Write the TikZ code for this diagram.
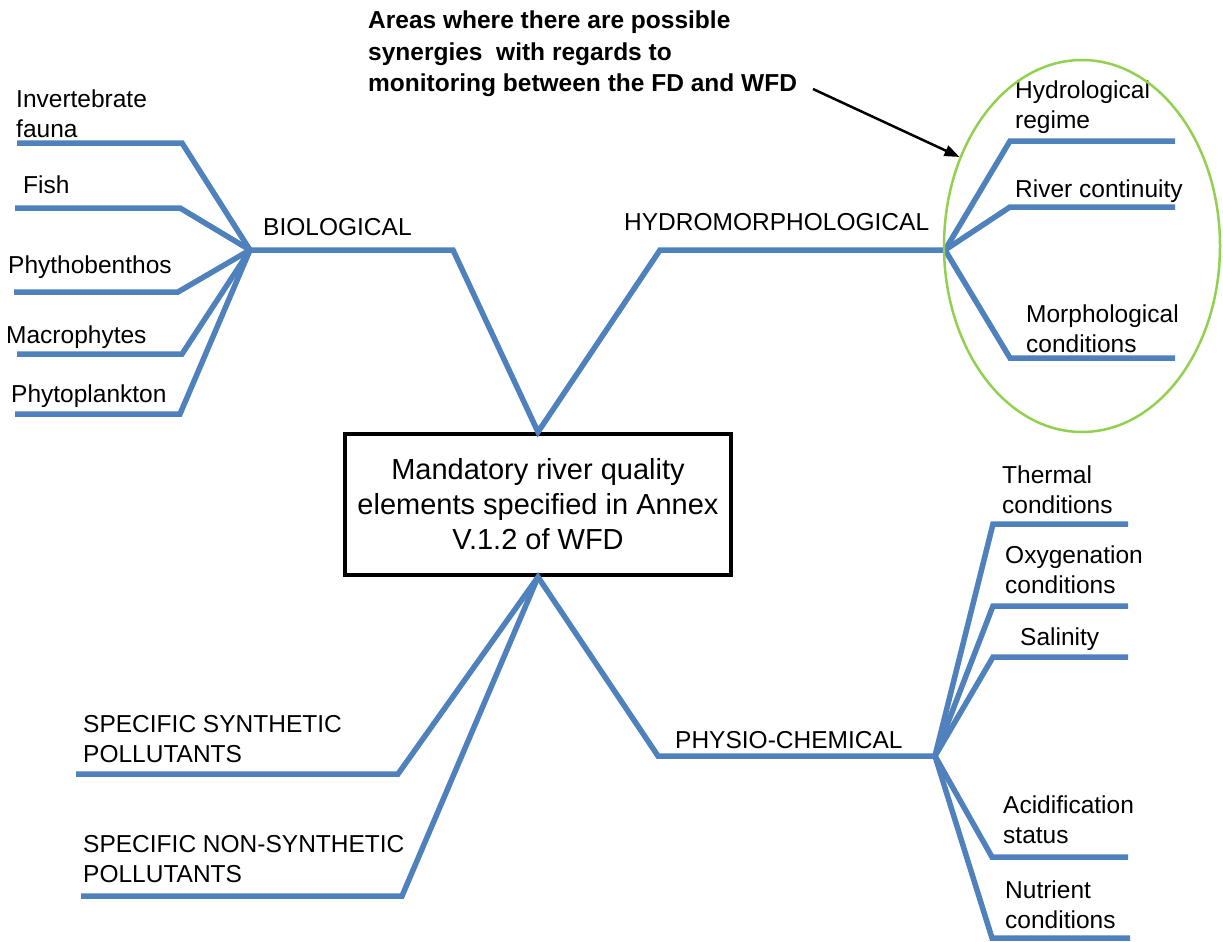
\documentclass[tikz,border=0pt]{standalone}
\usepackage{fontspec}
\setmainfont{Liberation Sans}
\usetikzlibrary{positioning,shapes.geometric,arrows.meta}

\definecolor{branchblue}{RGB}{79,129,189}
\definecolor{ringgreen}{RGB}{146,208,80}

\begin{document}
\begin{tikzpicture}[x=1pt, y=-1pt,
    lbl/.style={anchor=base west, align=left, inner sep=0pt, font=\fontsize{24.5}{30}\selectfont},
    branch/.style={draw=branchblue, line width=5.5pt},
    pointer/.style={draw=black, line width=2.5pt, -{Triangle[length=15pt,width=11pt]}}]

    \useasboundingbox (0,0) rectangle (1223,942);
    \fill[white] (0,0) rectangle (1223,942);

    % centre box
    \node[draw, fill=white, line width=4pt, minimum width=386pt, minimum height=141pt, align=center,
          font=\fontsize{29}{35}\selectfont] (wfd) at (538,504.5)
          {Mandatory river quality\\elements specified in Annex\\V.1.2 of WFD};

    % main branches
    \coordinate (bio hub) at (250,250);
    \coordinate (bio bend) at (453,250);
    \coordinate (hyd bend) at (660,250);
    \coordinate (hyd hub) at (945,250);
    \coordinate (phy bend) at (658,756);
    \coordinate (phy hub) at (935,756);
    \coordinate (syn bend) at (398,774);
    \coordinate (syn end) at (76,774);
    \coordinate (nsy bend) at (402,896);
    \coordinate (nsy end) at (81,896);

    \draw[branch] (bio hub) -- (bio bend) -- (wfd.north) -- (hyd bend) -- (hyd hub);
    \draw[branch] (syn end) -- (syn bend) -- (wfd.south) -- (phy bend) -- (phy hub);
    \draw[branch] (nsy end) -- (nsy bend) -- (wfd.south);

    \node[lbl] (bio) at (263,235) {BIOLOGICAL};
    \node[lbl] (hyd) at (624,230) {HYDROMORPHOLOGICAL};
    \node[lbl] (phy) at (675,748) {PHYSIO-CHEMICAL};
    \node[lbl] (syn) at (83,762) {SPECIFIC SYNTHETIC\\POLLUTANTS};
    \node[lbl] (nsy) at (83,882) {SPECIFIC NON-SYNTHETIC\\POLLUTANTS};

    % biological elements
    \coordinate (inv bend) at (182,143); \coordinate (inv end) at (17,143);
    \coordinate (fish bend) at (180,208); \coordinate (fish end) at (15,208);
    \coordinate (phb bend) at (178,292); \coordinate (phb end) at (14,292);
    \coordinate (mac bend) at (182,354); \coordinate (mac end) at (17,354);
    \coordinate (plk bend) at (180,414); \coordinate (plk end) at (15,414);

    \draw[branch] (bio hub) -- (inv bend) -- (inv end);
    \draw[branch] (bio hub) -- (fish bend) -- (fish end);
    \draw[branch] (bio hub) -- (phb bend) -- (phb end);
    \draw[branch] (bio hub) -- (mac bend) -- (mac end);
    \draw[branch] (bio hub) -- (plk bend) -- (plk end);

    \node[lbl] (inv) at (16,137) {Invertebrate\\fauna};
    \node[lbl] (fish) at (23,193) {Fish};
    \node[lbl] (phb) at (8,273) {Phythobenthos};
    \node[lbl] (mac) at (6,343) {Macrophytes};
    \node[lbl] (plk) at (11,402) {Phytoplankton};

    % hydromorphological elements
    \coordinate (reg bend) at (1010,141); \coordinate (reg end) at (1175,141);
    \coordinate (riv bend) at (1010,207); \coordinate (riv end) at (1175,207);
    \coordinate (mor bend) at (1010,358); \coordinate (mor end) at (1175,358);

    \draw[branch] (hyd hub) -- (reg bend) -- (reg end);
    \draw[branch] (hyd hub) -- (riv bend) -- (riv end);
    \draw[branch] (hyd hub) -- (mor bend) -- (mor end);

    \node[lbl] (reg) at (1015,128) {Hydrological\\regime};
    \node[lbl] (riv) at (1015,197) {River continuity};
    \node[lbl] (mor) at (1026,352) {Morphological\\conditions};

    % physio-chemical elements
    \coordinate (thr bend) at (993,524); \coordinate (thr end) at (1128,524);
    \coordinate (oxy bend) at (993,606); \coordinate (oxy end) at (1128,606);
    \coordinate (sal bend) at (993,657); \coordinate (sal end) at (1128,657);
    \coordinate (aci bend) at (992,857); \coordinate (aci end) at (1128,857);
    \coordinate (nut bend) at (992,938); \coordinate (nut end) at (1130,938);

    \draw[branch] (phy hub) -- (thr bend) -- (thr end);
    \draw[branch] (phy hub) -- (oxy bend) -- (oxy end);
    \draw[branch] (phy hub) -- (sal bend) -- (sal end);
    \draw[branch] (phy hub) -- (aci bend) -- (aci end);
    \draw[branch] (phy hub) -- (nut bend) -- (nut end);

    \node[lbl] (thr) at (1002,513) {Thermal\\conditions};
    \node[lbl] (oxy) at (1005,593) {Oxygenation\\conditions};
    \node[lbl] (sal) at (1020,645) {Salinity};
    \node[lbl] (aci) at (1003,843) {Acidification\\status};
    \node[lbl] (nut) at (1005,928) {Nutrient\\conditions};

    % FD / WFD overlap
    \node[ellipse, draw=ringgreen, line width=2.5pt, minimum width=276pt, minimum height=372pt,
          inner sep=0pt] (overlap) at (1082,246) {};
    \node[lbl, font=\bfseries\fontsize{24.5}{31.5}\selectfont] (note) at (368,92)
          {Areas where there are possible\\synergies~ with regards to\\monitoring between the FD and WFD};
    \coordinate (tail) at (813,89);
    \draw[pointer] (tail) -- (overlap.144);
\end{tikzpicture}
\end{document}
